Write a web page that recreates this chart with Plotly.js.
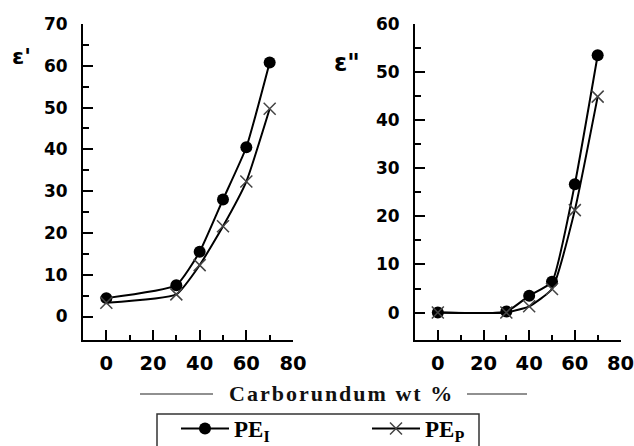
<!DOCTYPE html>
<html>
<head>
<meta charset="utf-8">
<script src="https://cdn.plot.ly/plotly-3.0.1.min.js"></script>
<style>
html,body{margin:0;padding:0;background:#fff;}
#chart{width:634px;height:446px;}
</style>
</head>
<body>
<div id="chart"></div>
<script>
// ---- data ----
var carborundumWt = [0, 30, 40, 50, 60, 70];
var epsPrimePEI = [4.4, 7.5, 15.5, 28.0, 40.5, 60.8];
var epsPrimePEP = [3.3, 5.3, 12.3, 21.6, 32.3, 49.7];
var epsDoublePEI = [0, 0.2, 3.5, 6.4, 26.7, 53.5];
var epsDoublePEP = [0, 0, 1.3, 4.9, 21.3, 44.9];
var xTickVals = [0, 20, 40, 60, 80];
var yLeftTicks = [0, 10, 20, 30, 40, 50, 60, 70];
var yRightTicks = [0, 10, 20, 30, 40, 50, 60];
var seriesNames = ['<b>PE<sub>I</sub></b>', '<b>PE<sub>P</sub></b>'];
var xTitle = 'Carborundum wt %';
var yLeftTitle = "<b>\u03b5'</b>";
var yRightTitle = '<b>\u03b5"</b>';

var W = 634, H = 446;
function px(x){ return x / W; }
function py(y){ return 1 - y / H; }

var lineStyle = {color: '#000', width: 2, shape: 'spline', smoothing: 0.45};
var circleMarker = {symbol: 'circle', size: 12, color: '#000'};
var crossMarker = {symbol: 'x-thin-open', size: 12, color: '#444', line: {width: 1.5, color: '#444'}};

var traces = [
  {x: carborundumWt, y: epsPrimePEI, xaxis: 'x', yaxis: 'y', mode: 'lines+markers', name: seriesNames[0],
   line: lineStyle, marker: circleMarker, showlegend: true},
  {x: carborundumWt, y: epsPrimePEP, xaxis: 'x', yaxis: 'y', mode: 'lines+markers', name: seriesNames[1],
   line: lineStyle, marker: crossMarker, showlegend: true},
  {x: carborundumWt, y: epsDoublePEI, xaxis: 'x2', yaxis: 'y2', mode: 'lines+markers', name: seriesNames[0],
   line: lineStyle, marker: circleMarker, showlegend: false},
  {x: carborundumWt, y: epsDoublePEP, xaxis: 'x2', yaxis: 'y2', mode: 'lines+markers', name: seriesNames[1],
   line: lineStyle, marker: crossMarker, showlegend: false}
];

var tickFontX = {family: 'DejaVu Sans', size: 19.5, color: '#000', weight: 'bold'};
var tickFontY = {family: 'DejaVu Sans', size: 17, color: '#000', weight: 'bold'};

function xAxis(domain, anchor){
  return {
    domain: domain, anchor: anchor, range: [-10, 80], tickvals: xTickVals,
    showline: true, linecolor: '#000', linewidth: 2, showgrid: false, zeroline: false,
    ticks: 'inside', ticklen: 10, tickwidth: 2, tickcolor: '#000',
    minor: {ticks: 'inside', ticklen: 5, tickwidth: 2, tickcolor: '#000', tickvals: [10, 30, 50, 70], showgrid: false},
    tickfont: tickFontX, ticklabelstandoff: 5, ticklabeloverflow: 'allow', fixedrange: true
  };
}
function yAxis(range, ticks, anchor, minorVals){
  return {
    domain: [py(339.5), py(24)], anchor: anchor, range: range, tickvals: ticks,
    showline: true, linecolor: '#000', linewidth: 2, showgrid: false, zeroline: false,
    ticks: 'inside', ticklen: 10, tickwidth: 2, tickcolor: '#000',
    minor: {ticks: 'inside', ticklen: 6, tickwidth: 2, tickcolor: '#000', tickvals: minorVals, showgrid: false},
    tickfont: tickFontY, ticklabelstandoff: 10, ticklabeloverflow: 'allow', fixedrange: true
  };
}

var layout = {
  width: W, height: H,
  margin: {l: 0, r: 0, t: 0, b: 0, autoexpand: false},
  paper_bgcolor: '#fff', plot_bgcolor: 'rgba(0,0,0,0)',
  showlegend: true,
  xaxis: xAxis([px(83), px(293)], 'y'),
  yaxis: yAxis([-5.5, 70], yLeftTicks, 'x', [5, 15, 25, 35, 45, 55, 65]),
  xaxis2: xAxis([px(415), px(620.5)], 'y2'),
  yaxis2: yAxis([-5.6, 60], yRightTicks, 'x2', [5, 15, 25, 35, 45, 55]),
  legend: {
    orientation: 'h', x: px(176), y: py(407), xanchor: 'left', yanchor: 'top',
    bgcolor: 'rgba(0,0,0,0)', borderwidth: 0,
    font: {family: 'Liberation Serif', size: 23, color: '#000'},
    itemwidth: 48, entrywidth: 128, entrywidthmode: 'pixels', itemclick: false, itemdoubleclick: false
  },
  shapes: [
    {type: 'rect', xref: 'paper', yref: 'paper', x0: px(157), x1: px(479), y0: py(470), y1: py(414),
     line: {color: '#333', width: 1.5}, fillcolor: 'rgba(0,0,0,0)'},
    {type: 'line', xref: 'paper', yref: 'paper', x0: px(140), x1: px(213), y0: py(394), y1: py(394),
     line: {color: '#222', width: 1.2}},
    {type: 'line', xref: 'paper', yref: 'paper', x0: px(467), x1: px(527), y0: py(394), y1: py(394),
     line: {color: '#222', width: 1.2}}
  ],
  annotations: [
    {text: '<b><span style="letter-spacing:2px">' + xTitle + '</span></b>', xref: 'paper', yref: 'paper',
     x: px(341.5), y: py(393), xanchor: 'center', yanchor: 'middle', showarrow: false,
     font: {family: 'Liberation Serif', size: 22, color: '#111'}},
    {text: yLeftTitle, xref: 'paper', yref: 'paper', x: px(21), y: py(56), xanchor: 'center', yanchor: 'middle',
     showarrow: false, font: {family: 'DejaVu Sans', size: 22, color: '#000'}},
    {text: yRightTitle, xref: 'paper', yref: 'paper', x: px(347), y: py(63), xanchor: 'center', yanchor: 'middle',
     showarrow: false, font: {family: 'DejaVu Sans', size: 24, color: '#000'}}
  ]
};

Plotly.newPlot('chart', traces, layout, {displayModeBar: false, staticPlot: true});
</script>
</body>
</html>
